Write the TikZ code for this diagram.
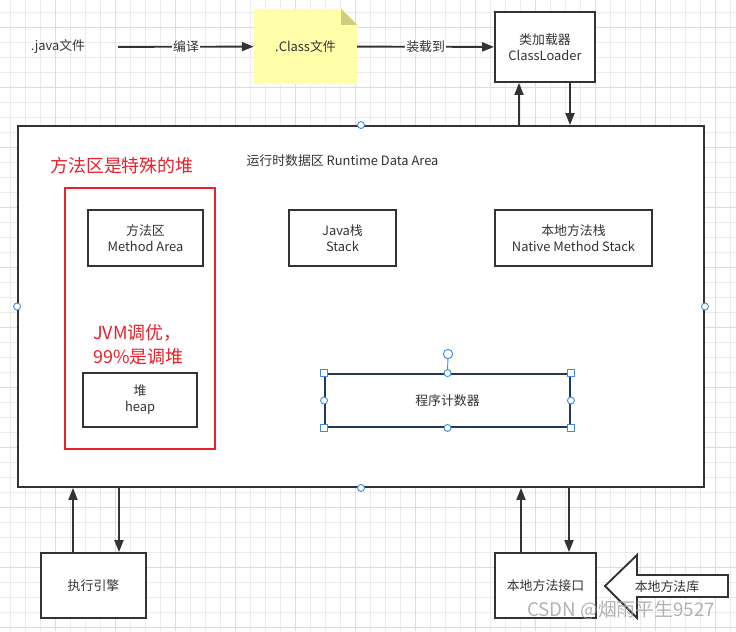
\documentclass[tikz,border=0pt]{standalone}
\usepackage{fontspec}
\setmainfont{Noto Sans CJK SC}
\usepackage{xcolor}
\usepackage{tikz}
\usetikzlibrary{arrows.meta}
\usetikzlibrary{calc}
\usetikzlibrary{backgrounds}

\definecolor{ink}{HTML}{333333}
\definecolor{gridc}{HTML}{EBEBEB}
\definecolor{gridm}{HTML}{DCDCDC}
\definecolor{notey}{HTML}{FFFFAA}
\definecolor{notefold}{HTML}{CFCF7C}
\definecolor{redmark}{HTML}{E8202A}
\definecolor{handleblue}{HTML}{3C8DEB}
\definecolor{pcline}{HTML}{22395A}

\begin{document}
\begin{tikzpicture}[
  x=0.03cm, y=-0.03cm,
  box/.style={
    rectangle,
    draw=ink,
    line width=1.6pt,
    fill=white,
    text=ink,
    align=center,
    inner sep=1pt,
    font=\fontsize{11}{13.6}\selectfont
  },
  plain/.style={
    rectangle,
    text=ink,
    inner sep=1pt,
    font=\fontsize{11}{13.6}\selectfont
  },
  redtext/.style={
    text=redmark,
    align=left,
    inner sep=0pt,
    font=\fontsize{15.3}{20.4}\selectfont
  },
  redframe/.style={rectangle, draw=redmark, line width=1.6pt},
  pcbox/.style={box, draw=pcline},
  tag/.style={fill=white, inner sep=1pt, text=ink, font=\fontsize{11}{13.6}\selectfont},
  arr/.style={-{Triangle[length=3.6mm, width=2.7mm]}, line width=1.6pt, ink},
  grip/.style={circle, draw=handleblue, fill=white, line width=0.8pt, minimum size=0.21cm, inner sep=0pt},
  gripsq/.style={rectangle, draw=handleblue, fill=white, line width=0.8pt, minimum size=0.21cm, inner sep=0pt},
  bigarrow/.style={draw=ink, line width=1.6pt, fill=white, line join=miter},
  wmark/.style={text=gray!75, opacity=0.8, font=\fontsize{16}{18}\selectfont}
]
\useasboundingbox (0,0) rectangle (736,631);

% ---- grid ----
\begin{scope}[on background layer]
\foreach \gx in {10,25,...,730}
  \draw[gridc, line width=0.7pt] (\gx,0) -- (\gx,631);
\foreach \gy in {12,27,...,627}
  \draw[gridc, line width=0.7pt] (0,\gy) -- (736,\gy);
\foreach \gx in {55,115,...,715}
  \draw[gridm, line width=0.7pt] (\gx,0) -- (\gx,631);
\foreach \gy in {27,87,...,627}
  \draw[gridm, line width=0.7pt] (0,\gy) -- (736,\gy);
\end{scope}

% ---- TOP ROW: java -> class -> loader ----
\node[plain, minimum width=3.6cm, minimum height=1cm] (java) at (58,47) {.java文件};
\node[plain, minimum width=3.09cm, minimum height=2.25cm] (classf) at (305.5,46.5) {.Class文件};
\begin{scope}[on background layer]
\fill[notey] (classf.south west) -- (classf.north west) -- ($(classf.north east)+(-16,0)$)
  -- ($(classf.north east)+(0,16)$) -- (classf.south east) -- cycle;
\fill[notefold] ($(classf.north east)+(-16,0)$) -- ($(classf.north east)+(0,16)$)
  -- ($(classf.north east)+(-16,16)$) -- cycle;
\end{scope}
\node[box, minimum width=3cm, minimum height=2.1cm] (loader) at (545,47) {类加载器\\ClassLoader};

\draw[arr] (java) -- node[tag] {编译} (classf);
\draw[arr] (classf) -- node[tag] {装载到} (loader);

% ---- RUNTIME DATA AREA ----
\node[box, minimum width=20.58cm, minimum height=10.83cm] (rda) at (361,306.5) {};
\node[plain] (rdatitle) at (342.5,161) {运行时数据区 Runtime Data Area};

\node[redtext, anchor=west] (special) at (50,166) {方法区是特殊的堆};
\node[redframe, minimum width=4.5cm, minimum height=7.83cm] (heapzone) at (140,318.5) {};

\node[box, minimum width=3.45cm, minimum height=1.68cm] (method) at (145.5,238) {方法区\\Method Area};
\node[box, minimum width=3.21cm, minimum height=1.68cm] (jstack) at (342.5,238) {Java栈\\Stack};
\node[box, minimum width=4.71cm, minimum height=1.68cm] (nstack) at (573.5,238) {本地方法栈\\Native Method Stack};

\node[redtext, anchor=west] (tuning) at (93,345) {JVM调优，\\99\%是调堆};
\node[box, minimum width=3.42cm, minimum height=1.62cm] (heap) at (140,400) {堆\\heap};
\node[pcbox, minimum width=7.35cm, minimum height=1.59cm] (pc) at (447.5,400.5) {程序计数器};

\draw[arr] (rda.north -| 519,0) -- (loader.south -| 519,0);
\draw[arr] (loader.south -| 570,0) -- (rda.north -| 570,0);

% ---- BOTTOM ROW ----
\node[box, minimum width=3.15cm, minimum height=1.95cm] (engine) at (93.5,585.5) {执行引擎};
\node[box, minimum width=3.03cm, minimum height=1.95cm] (nif) at (545.5,585.5) {本地方法接口};

\draw[arr] (engine.north -| 73,0) -- (rda.south -| 73,0);
\draw[arr] (rda.south -| 119,0) -- (engine.north -| 119,0);
\draw[arr] (nif.north -| 521,0) -- (rda.south -| 521,0);
\draw[arr] (rda.south -| 569,0) -- (nif.north -| 569,0);

\draw[bigarrow] (605,586) -- (637,555) -- (637,575) -- (728,575) -- (728,597)
  -- (637,597) -- (637,618) -- cycle;
\node[plain] (natlib) at (667,587) {本地方法库};

% ---- selection handles ----
\foreach \a in {north,south,east,west}
  \node[grip] (rda-\a) at (rda.\a) {};
\node[grip, minimum size=0.28cm] (rot) at (448,354) {};
\draw[handleblue, line width=0.8pt] (rot) -- (pc.north);
\foreach \a/\n in {north west/1,north east/2,south west/3,south east/4}
  \node[gripsq] (pc-\n) at (pc.\a) {};
\foreach \a in {north,south,east,west}
  \node[grip] (pc-\a) at (pc.\a) {};

\node[wmark] (csdn) at (621,610) {CSDN @烟雨平生9527};

\end{tikzpicture}
\end{document}
